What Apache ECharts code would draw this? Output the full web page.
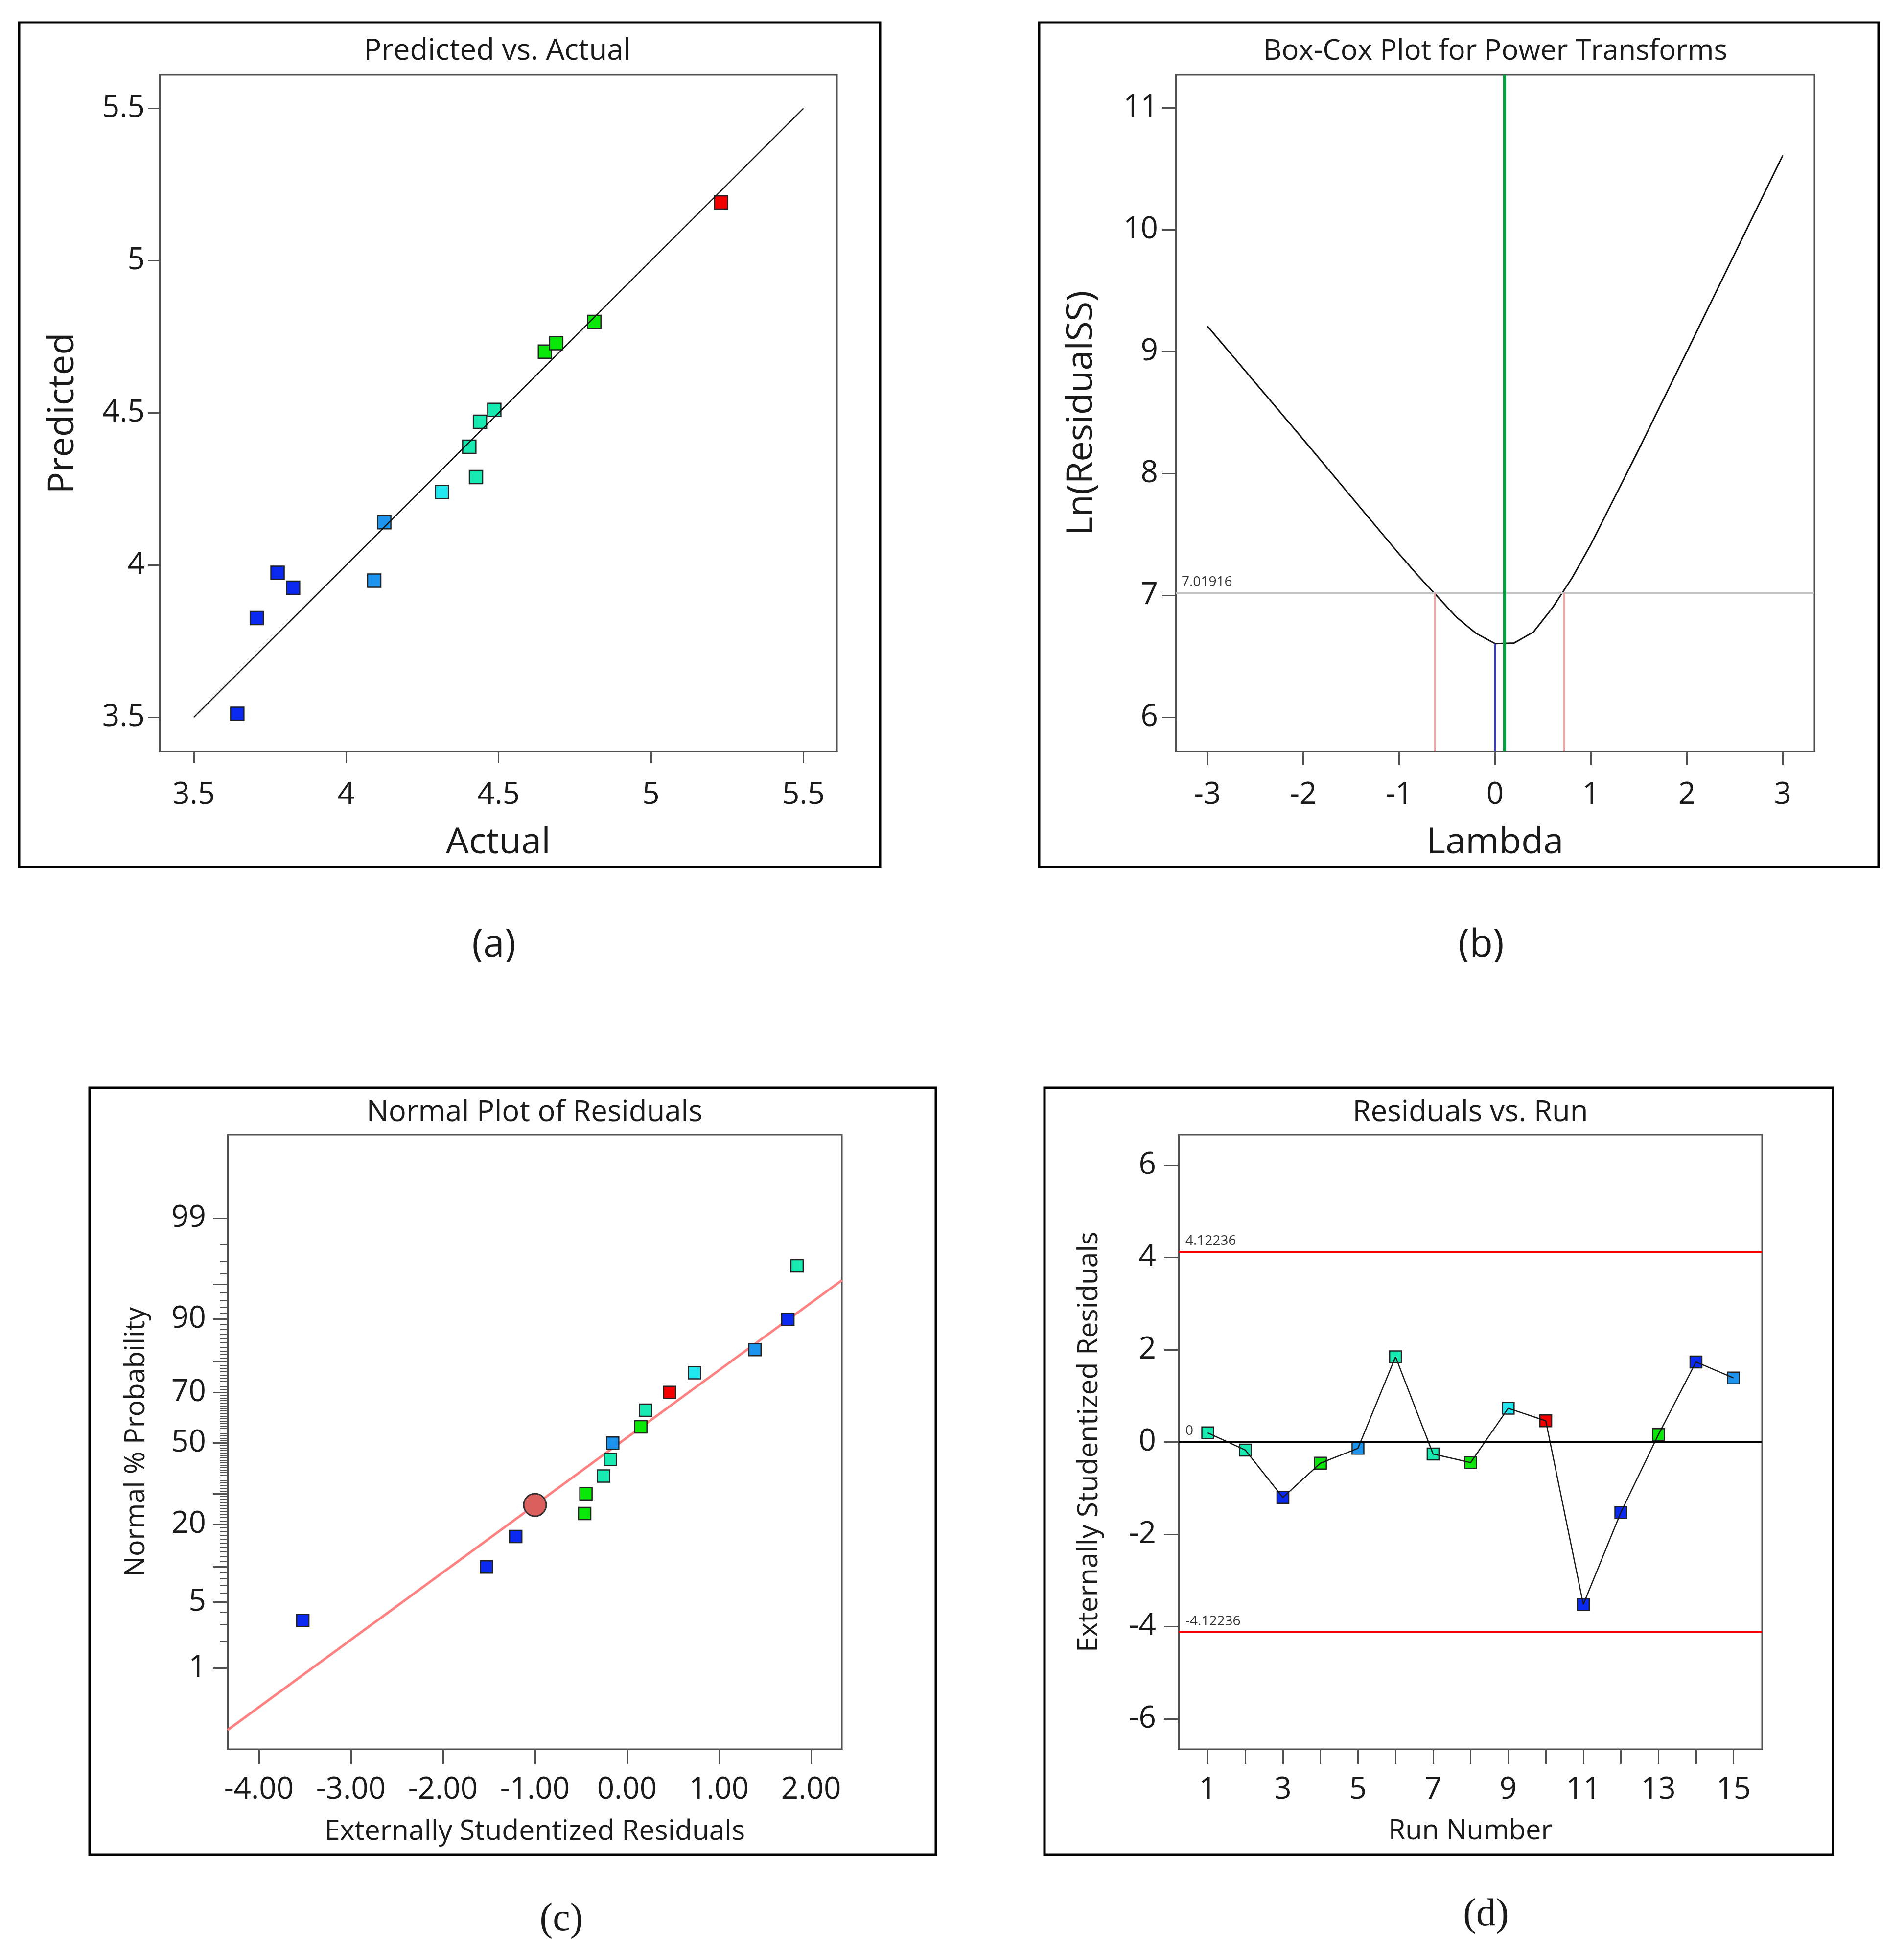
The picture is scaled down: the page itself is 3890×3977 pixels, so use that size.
<!DOCTYPE html>
<html>
<head>
<meta charset="utf-8">
<script src="https://cdn.jsdelivr.net/npm/echarts@6/dist/echarts.min.js"></script>
<style>
  html, body { margin: 0; padding: 0; background: #fff; }
  #main { width: 3890px; height: 3977px; }
</style>
</head>
<body>
<div id="main"></div>
<script>
// (a) predicted vs actual
var actualVals    = [3.643, 3.707, 3.775, 3.826, 4.092, 4.125, 4.314, 4.404, 4.426, 4.439, 4.486, 4.652, 4.689, 4.814, 5.230];
var predictedVals = [3.512, 3.826, 3.975, 3.926, 3.949, 4.141, 4.240, 4.389, 4.289, 4.471, 4.510, 4.701, 4.729, 4.799, 5.191];
var actualGroup   = [0, 0, 0, 0, 1, 1, 2, 3, 3, 3, 3, 4, 4, 4, 5];
var diagEnds = [3.5, 5.5];
var ticksA = [3.5, 4, 4.5, 5, 5.5];

// (b) box-cox
var lambdaVals = [-3, -2, -1, -0.8, -0.6, -0.4, -0.2, 0, 0.2, 0.4, 0.6, 0.8, 1, 1.5, 2, 3];
var lnRss      = [9.21, 8.28, 7.34, 7.16, 6.99, 6.82, 6.69, 6.605, 6.61, 6.70, 6.90, 7.14, 7.42, 8.20, 9.00, 10.61];
var boxCoxCI = [-0.63, 0.72];
var boxCoxBest = 0;
var boxCoxMin = 6.605;
var boxCoxCurrent = 0.1;
var boxCoxLimit = 7.01916;
var ticksBx = [-3, -2, -1, 0, 1, 2, 3];
var ticksBy = [6, 7, 8, 9, 10, 11];

// (c) normal plot of residuals
var normResid = [-3.523, -1.527, -1.209, -0.460, -0.446, -0.254, -0.181, -0.155, 0.150, 0.203, 0.462, 0.734, 1.390, 1.748, 1.848];
var normPct   = [3.33, 10, 16.67, 23.33, 30, 36.67, 43.33, 50, 56.67, 63.33, 70, 76.67, 83.33, 90, 96.67];
var normGroup = [0, 0, 0, 4, 4, 3, 3, 1, 4, 3, 5, 2, 1, 0, 3];
var fitLineX   = [-4.34, 2.335];
var fitLinePct = [0.149, 95.4];
var markerPt = [-1.0, 26.1];
var pctMajor = [1, 5, 10, 20, 30, 50, 70, 80, 90, 95, 99];
var pctLabels = [1, 5, 20, 50, 70, 90, 99];
var ticksCx = [-4, -3, -2, -1, 0, 1, 2];

// (d) residuals vs run
var runNo    = [1, 2, 3, 4, 5, 6, 7, 8, 9, 10, 11, 12, 13, 14, 15];
var runResid = [0.198, -0.174, -1.202, -0.459, -0.136, 1.847, -0.26, -0.446, 0.731, 0.459, -3.52, -1.525, 0.161, 1.735, 1.388];
var runGroup = [3, 3, 0, 4, 1, 3, 3, 4, 2, 5, 0, 0, 4, 0, 1];
var runLimit = 4.12236;
var runLabels = [1, 3, 5, 7, 9, 11, 13, 15];
var ticksDy = [-6, -4, -2, 0, 2, 4, 6];

var palette = ['#0a2af2', '#1c94ee', '#22e6f0', '#18eab2', '#0ae80a', '#f20000'];
var FONT = '"Open Sans", "Noto Sans", sans-serif';
var TXT = '#1a1a1a';
var AX = '#505050';

// inverse normal cdf (Acklam), used as the probability axis scale
function probit(p) {
  var a = [-3.969683028665376e+01, 2.209460984245205e+02, -2.759285104469687e+02, 1.383577518672690e+02, -3.066479806614716e+01, 2.506628277459239e+00];
  var b = [-5.447609879822406e+01, 1.615858368580409e+02, -1.556989798598866e+02, 6.680131188771972e+01, -1.328068155288572e+01];
  var c = [-7.784894002430293e-03, -3.223964580411365e-01, -2.400758277161838e+00, -2.549732539343734e+00, 4.374664141464968e+00, 2.938163982698783e+00];
  var d = [7.784695709041462e-03, 3.224671290700398e-01, 2.445134137142996e+00, 3.754408661907416e+00];
  var q, r;
  if (p < 0.02425) {
    q = Math.sqrt(-2 * Math.log(p));
    return (((((c[0]*q+c[1])*q+c[2])*q+c[3])*q+c[4])*q+c[5]) / ((((d[0]*q+d[1])*q+d[2])*q+d[3])*q+1);
  }
  if (p <= 1 - 0.02425) {
    q = p - 0.5; r = q * q;
    return (((((a[0]*r+a[1])*r+a[2])*r+a[3])*r+a[4])*r+a[5])*q / (((((b[0]*r+b[1])*r+b[2])*r+b[3])*r+b[4])*r+1);
  }
  q = Math.sqrt(-2 * Math.log(1 - p));
  return -(((((c[0]*q+c[1])*q+c[2])*q+c[3])*q+c[4])*q+c[5]) / ((((d[0]*q+d[1])*q+d[2])*q+d[3])*q+1);
}
function zOf(pct) { return probit(pct / 100); }

var pctMinor = [];
for (var i = 2; i <= 98; i++) if (pctMajor.indexOf(i) < 0) pctMinor.push(i);

function axisBase(extra) {
  var o = {
    type: 'value',
    splitLine: { show: false },
    axisLine: { show: true, onZero: false, lineStyle: { color: AX, width: 3 } },
    axisTick: { show: true, inside: false, length: 24, lineStyle: { color: AX, width: 3 } },
    axisLabel: { color: TXT, fontSize: 62, fontFamily: FONT },
    nameLocation: 'middle',
    nameTextStyle: { color: TXT, fontSize: 74, fontFamily: FONT }
  };
  for (var k in extra) {
    if (typeof extra[k] === 'object' && !Array.isArray(extra[k]) && o[k]) {
      for (var kk in extra[k]) o[k][kk] = extra[k][kk];
    } else o[k] = extra[k];
  }
  return o;
}

var sq = function (p) { return palette[p.data[2]]; };

var option = {
  animation: false,
  backgroundColor: '#fff',
  grid: [
    { left: 326, top: 153, width: 1384, height: 1382, show: true, borderColor: AX, borderWidth: 3 },
    { left: 2402, top: 153, width: 1305, height: 1382, show: true, borderColor: AX, borderWidth: 3 },
    { left: 465, top: 2318, width: 1255, height: 1255, show: true, borderColor: AX, borderWidth: 3 },
    { left: 2408, top: 2318, width: 1192, height: 1255, show: true, borderColor: AX, borderWidth: 3 }
  ],
  xAxis: [
    axisBase({ gridIndex: 0, min: 3.388, max: 5.61, name: 'Actual', nameGap: 150,
      axisTick: { customValues: ticksA }, axisLabel: { customValues: ticksA, margin: 58 } }),
    axisBase({ gridIndex: 1, min: -3.33, max: 3.33, name: 'Lambda', nameGap: 150,
      axisTick: { customValues: ticksBx, length: 28 }, axisLabel: { customValues: ticksBx, margin: 58 } }),
    axisBase({ gridIndex: 2, min: -4.34, max: 2.335, name: 'Externally Studentized Residuals', nameGap: 140,
      nameTextStyle: { fontSize: 57 },
      axisTick: { customValues: ticksCx, length: 30 },
      axisLabel: { customValues: ticksCx, margin: 52, formatter: function (v) { return v.toFixed(2); } } }),
    axisBase({ gridIndex: 3, min: 0.224, max: 15.76, name: 'Run Number', nameGap: 140,
      nameTextStyle: { fontSize: 56 },
      axisTick: { customValues: runNo, length: 30 }, axisLabel: { customValues: runLabels, margin: 52 } })
  ],
  yAxis: [
    axisBase({ gridIndex: 0, min: 3.388, max: 5.61, name: 'Predicted', nameGap: 160,
      axisTick: { customValues: ticksA }, axisLabel: { customValues: ticksA, margin: 30 } }),
    axisBase({ gridIndex: 1, min: 5.72, max: 11.27, name: 'Ln(ResidualSS)', nameGap: 155,
      axisTick: { customValues: ticksBy, length: 28 }, axisLabel: { customValues: ticksBy, margin: 36 } }),
    axisBase({ gridIndex: 2, position: 'left', min: -3.168, max: 3.19, name: 'Normal % Probability', nameGap: 158,
      nameTextStyle: { fontSize: 56 },
      axisTick: { customValues: pctMajor.map(zOf), length: 30 },
      axisLabel: { customValues: pctLabels.map(zOf), margin: 44, formatter: function (v) {
        var best = pctLabels[0];
        pctLabels.forEach(function (p) { if (Math.abs(zOf(p) - v) < Math.abs(zOf(best) - v)) best = p; });
        return String(best);
      } } }),
    axisBase({ gridIndex: 2, position: 'left', offset: 0, min: -3.168, max: 3.19,
      axisLine: { show: false }, axisLabel: { show: false },
      axisTick: { customValues: pctMinor.map(zOf), length: 15, lineStyle: { color: AX, width: 2 } } }),
    axisBase({ gridIndex: 3, position: 'left', min: -6.657, max: 6.657, name: 'Externally Studentized Residuals', nameGap: 154,
      nameTextStyle: { fontSize: 57 },
      axisTick: { customValues: ticksDy, length: 30 }, axisLabel: { customValues: ticksDy, margin: 46 } })
  ],
  graphic: [
    { type: 'rect', shape: { x: 39, y: 46, width: 1759, height: 1725 }, style: { fill: 'none', stroke: '#000', lineWidth: 5 } },
    { type: 'rect', shape: { x: 2123, y: 46, width: 1715, height: 1725 }, style: { fill: 'none', stroke: '#000', lineWidth: 5 } },
    { type: 'rect', shape: { x: 183, y: 2222, width: 1729, height: 1567 }, style: { fill: 'none', stroke: '#000', lineWidth: 5 } },
    { type: 'rect', shape: { x: 2134, y: 2222, width: 1611, height: 1567 }, style: { fill: 'none', stroke: '#000', lineWidth: 5 } },
    { type: 'text', x: 1016, y: 105, style: { text: 'Predicted vs. Actual', fontSize: 60, fontFamily: FONT, fill: TXT, textAlign: 'center', textVerticalAlign: 'middle' } },
    { type: 'text', x: 3055, y: 105, style: { text: 'Box-Cox Plot for Power Transforms', fontSize: 58, fontFamily: FONT, fill: TXT, textAlign: 'center', textVerticalAlign: 'middle' } },
    { type: 'text', x: 1092, y: 2273, style: { text: 'Normal Plot of Residuals', fontSize: 60, fontFamily: FONT, fill: TXT, textAlign: 'center', textVerticalAlign: 'middle' } },
    { type: 'text', x: 3004, y: 2273, style: { text: 'Residuals vs. Run', fontSize: 60, fontFamily: FONT, fill: TXT, textAlign: 'center', textVerticalAlign: 'middle' } },
    { type: 'text', x: 1009, y: 1932, style: { text: '(a)', fontSize: 78, fontFamily: FONT, fill: TXT, textAlign: 'center', textVerticalAlign: 'middle' } },
    { type: 'text', x: 3026, y: 1932, style: { text: '(b)', fontSize: 78, fontFamily: FONT, fill: TXT, textAlign: 'center', textVerticalAlign: 'middle' } },
    { type: 'text', x: 1147, y: 3922, style: { text: '(c)', fontSize: 80, fontFamily: '"Liberation Serif", serif', fill: TXT, textAlign: 'center', textVerticalAlign: 'middle' } },
    { type: 'text', x: 3036, y: 3912, style: { text: '(d)', fontSize: 80, fontFamily: '"Liberation Serif", serif', fill: TXT, textAlign: 'center', textVerticalAlign: 'middle' } }
  ],
  series: [
    // (a)
    { type: 'scatter', xAxisIndex: 0, yAxisIndex: 0, symbol: 'rect', symbolSize: 27, z: 2,
      itemStyle: { color: sq, borderColor: '#222', borderWidth: 2.5, opacity: 1 },
      data: actualVals.map(function (v, i) { return [v, predictedVals[i], actualGroup[i]]; }) },
    { type: 'line', xAxisIndex: 0, yAxisIndex: 0, showSymbol: false, z: 3,
      lineStyle: { color: '#111', width: 2.5 },
      data: [[diagEnds[0], diagEnds[0]], [diagEnds[1], diagEnds[1]]] },
    // (b)
    { type: 'line', xAxisIndex: 1, yAxisIndex: 1, showSymbol: false, z: 4,
      lineStyle: { color: '#111', width: 3 },
      data: lambdaVals.map(function (v, i) { return [v, lnRss[i]]; }),
      markLine: {
        silent: true, symbol: ['none', 'none'], label: { show: false },
        data: [
          { yAxis: boxCoxLimit, lineStyle: { color: '#c4c4c4', width: 4, type: 'solid' },
            label: { show: true, formatter: '7.01916', position: 'insideStartTop', distance: [12, 8], fontSize: 28, color: '#333', fontFamily: FONT } },
          [{ coord: [boxCoxCI[0], 5.72], lineStyle: { color: '#f4a4a4', width: 3, type: 'solid' } }, { coord: [boxCoxCI[0], boxCoxLimit] }],
          [{ coord: [boxCoxCI[1], 5.72], lineStyle: { color: '#f4a4a4', width: 3, type: 'solid' } }, { coord: [boxCoxCI[1], boxCoxLimit] }],
          [{ coord: [boxCoxBest, 5.72], lineStyle: { color: '#3a3ad0', width: 3, type: 'solid' } }, { coord: [boxCoxBest, boxCoxMin] }],
          { xAxis: boxCoxCurrent, lineStyle: { color: '#00a03a', width: 6, type: 'solid' } }
        ]
      } },
    // (c)
    { type: 'line', xAxisIndex: 2, yAxisIndex: 2, showSymbol: false, z: 2,
      lineStyle: { color: '#ff8282', width: 5 },
      data: fitLineX.map(function (v, i) { return [v, zOf(fitLinePct[i])]; }) },
    { type: 'scatter', xAxisIndex: 2, yAxisIndex: 2, symbol: 'rect', symbolSize: 25, z: 3,
      itemStyle: { color: sq, borderColor: '#222', borderWidth: 2.5, opacity: 1 },
      data: normResid.map(function (v, i) { return [v, zOf(normPct[i]), normGroup[i]]; }) },
    { type: 'scatter', xAxisIndex: 2, yAxisIndex: 2, symbol: 'circle', symbolSize: 46, z: 4,
      itemStyle: { color: '#d9605d', borderColor: '#333', borderWidth: 3, opacity: 1 },
      data: [[markerPt[0], zOf(markerPt[1])]] },
    // (d)
    { type: 'scatter', xAxisIndex: 3, yAxisIndex: 4, symbol: 'rect', symbolSize: 24, z: 3,
      itemStyle: { color: sq, borderColor: '#222', borderWidth: 2.5, opacity: 1 },
      data: runNo.map(function (r, i) { return [r, runResid[i], runGroup[i]]; }) },
    { type: 'line', xAxisIndex: 3, yAxisIndex: 4, showSymbol: false, z: 4,
      lineStyle: { color: '#1a1a1a', width: 2.5 },
      data: runNo.map(function (r, i) { return [r, runResid[i]]; }),
      markLine: {
        silent: true, symbol: ['none', 'none'],
        label: { show: true, position: 'insideStartTop', distance: [14, 8], fontSize: 28, color: '#333', fontFamily: FONT },
        data: [
          { yAxis: runLimit, label: { formatter: '4.12236' }, lineStyle: { color: '#ff0000', width: 4, type: 'solid' } },
          { yAxis: 0, label: { formatter: '0' }, lineStyle: { color: '#000', width: 4, type: 'solid' } },
          { yAxis: -runLimit, label: { formatter: '-4.12236' }, lineStyle: { color: '#ff0000', width: 4, type: 'solid' } }
        ]
      } }
  ]
};

var chart = echarts.init(document.getElementById('main'), null, { renderer: 'canvas' });
chart.setOption(option);
</script>
</body>
</html>
